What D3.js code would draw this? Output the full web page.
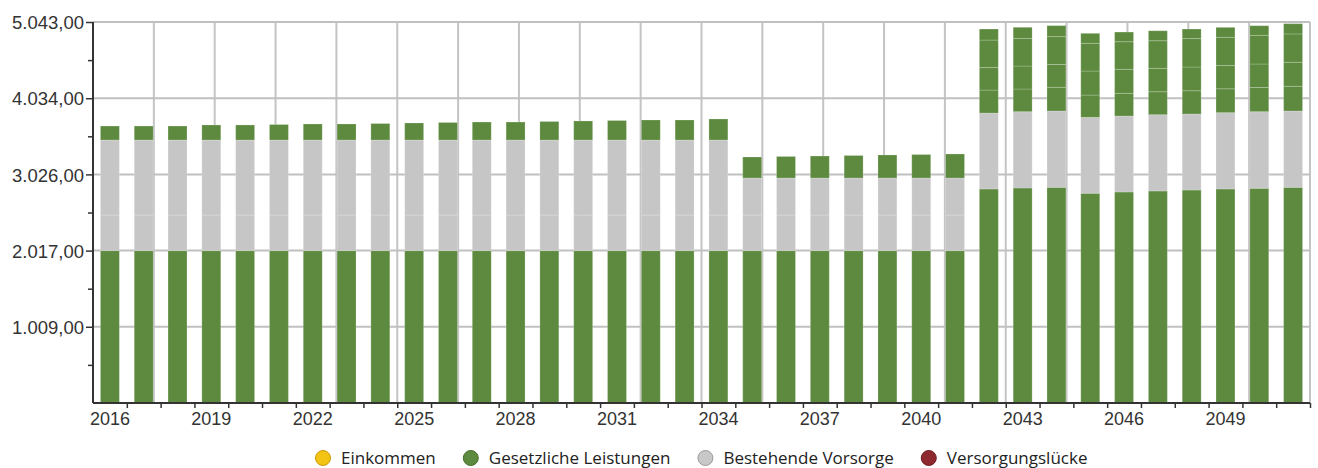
<!DOCTYPE html>
<html>
<head>
<meta charset="utf-8">
<script src="https://cdn.jsdelivr.net/npm/d3@7"></script>
<style>
  body { margin: 0; background: #fff; }
  .axis text { font-family: "Liberation Sans", Arial, sans-serif; fill: #333; }
  .legend text { font-family: "Open Sans", sans-serif; font-size: 17px; fill: #222; }
</style>
</head>
<body>
<div id="chart"></div>
<script>
// chart values
var years = [2016, 2017, 2018, 2019, 2020, 2021, 2022, 2023, 2024, 2025, 2026, 2027,
             2028, 2029, 2030, 2031, 2032, 2033, 2034, 2035, 2036, 2037, 2038, 2039,
             2040, 2041, 2042, 2043, 2044, 2045, 2046, 2047, 2048, 2049, 2050, 2051];

// bottom green block
var gesetzlichBasis = [2017, 2017, 2017, 2017, 2017, 2017, 2017, 2017, 2017, 2017, 2017, 2017,
                       2017, 2017, 2017, 2017, 2017, 2017, 2017, 2017, 2017, 2017, 2017, 2017,
                       2017, 2017, 2833, 2846, 2855, 2776, 2793, 2806, 2819, 2833, 2842, 2855];

// grey blocks (two parts)
var vorsorgeA = [471, 471, 471, 471, 471, 471, 471, 471, 471, 471, 471, 471,
                 471, 471, 471, 471, 471, 471, 471, 471, 471, 471, 471, 471,
                 471, 471, 1005, 1010, 1010, 1005, 1006, 1010, 1006, 1010, 1014, 1010];
var vorsorgeB = [993, 993, 993, 993, 993, 993, 993, 993, 993, 993, 993, 993,
                 993, 993, 993, 993, 993, 993, 993, 490, 490, 490, 490, 490,
                 490, 490, 0, 0, 0, 0, 0, 0, 0, 0, 0, 0];

// top green blocks
var zusatz1 = [185, 185, 185, 199, 199, 205, 212, 212, 218, 225, 232, 238,
               238, 245, 252, 258, 265, 265, 278, 278, 285, 291, 298, 305,
               311, 318, 304, 300, 314, 295, 300, 304, 308, 316, 320, 327];
var zusatz2 = [0, 0, 0, 0, 0, 0, 0, 0, 0, 0, 0, 0,
               0, 0, 0, 0, 0, 0, 0, 0, 0, 0, 0, 0,
               0, 0, 298, 304, 302, 318, 318, 310, 314, 308, 311, 318];
var zusatz3 = [0, 0, 0, 0, 0, 0, 0, 0, 0, 0, 0, 0,
               0, 0, 0, 0, 0, 0, 0, 0, 0, 0, 0, 0,
               0, 0, 364, 367, 368, 367, 365, 365, 377, 373, 380, 375];
var zusatz4 = [0, 0, 0, 0, 0, 0, 0, 0, 0, 0, 0, 0,
               0, 0, 0, 0, 0, 0, 0, 0, 0, 0, 0, 0,
               0, 0, 146, 146, 146, 132, 128, 132, 126, 132, 127, 136];

var yTicks = [1009, 2017, 3026, 4034, 5043];
var yMax = 5043;
var labelYears = [2016, 2019, 2022, 2025, 2028, 2031, 2034, 2037, 2040, 2043, 2046, 2049];

var legendItems = ["Einkommen", "Gesetzliche Leistungen", "Bestehende Vorsorge", "Versorgungslücke"];
var legendColors = ["#f3c414", "#5d8a3e", "#c8c8c8", "#8e2a2f"];
var legendStroke = ["#c89a00", "#466e2c", "#9a9a9a", "#6a1a1e"];

// set the dimensions and margins of the graph
var margin = {top: 22, right: 8, bottom: 65, left: 93},
    W = 1318, H = 468,
    width = W - margin.left - margin.right,
    height = H - margin.top - margin.bottom;

var svg = d3.select("#chart")
    .append("svg")
    .attr("width", W)
    .attr("height", H)
  .append("g")
    .attr("transform", "translate(" + margin.left + "," + margin.top + ")");

var keys = ["gesetzlichBasis", "vorsorgeA", "vorsorgeB", "zusatz1", "zusatz2", "zusatz3", "zusatz4"];
var keyColor = {
  gesetzlichBasis: "#5d8a3e", vorsorgeA: "#c6c6c6", vorsorgeB: "#c6c6c6",
  zusatz1: "#5d8a3e", zusatz2: "#5d8a3e", zusatz3: "#5d8a3e", zusatz4: "#5d8a3e"
};
var rows = years.map(function(yr, i) {
  return {year: yr, gesetzlichBasis: gesetzlichBasis[i], vorsorgeA: vorsorgeA[i], vorsorgeB: vorsorgeB[i],
          zusatz1: zusatz1[i], zusatz2: zusatz2[i], zusatz3: zusatz3[i], zusatz4: zusatz4[i]};
});

// scales
var x = d3.scaleBand()
    .domain(years)
    .range([0, width])
    .paddingInner(0.44)
    .paddingOuter(0.22);

var y = d3.scaleLinear()
    .domain([0, yMax])
    .range([height, 0]);

// grid: 20 vertical divisions
var xg = d3.scaleLinear().domain([0, 20]).range([0, width]);
svg.append("g")
    .selectAll("line")
    .data(d3.range(1, 21))
    .enter().append("line")
    .attr("x1", function(d) { return xg(d); })
    .attr("x2", function(d) { return xg(d); })
    .attr("y1", 0).attr("y2", height)
    .style("stroke", "#c4c4c4")
    .style("stroke-width", 2);

svg.append("g")
    .selectAll("line")
    .data(yTicks)
    .enter().append("line")
    .attr("x1", 0).attr("x2", width)
    .attr("y1", function(d) { return y(d); })
    .attr("y2", function(d) { return y(d); })
    .style("stroke", "#c0c0c0")
    .style("stroke-width", 2);

// stacked bars
var stack = d3.stack().keys(keys)(rows);
svg.append("g")
    .selectAll("g")
    .data(stack)
    .enter().append("g")
    .style("fill", function(d) { return keyColor[d.key]; })
    .selectAll("rect")
    .data(function(d) { return d.filter(function(s) { return s[1] > s[0]; }); })
    .enter().append("rect")
    .attr("x", function(d) { return x(d.data.year); })
    .attr("width", x.bandwidth())
    .attr("y", function(d) { return y(d[1]); })
    .attr("height", function(d) { return y(d[0]) - y(d[1]); })
    .style("stroke", "rgba(255,255,255,0.2)")
    .style("stroke-width", 1);

// Y axis
var de = d3.formatLocale({decimal: ",", thousands: ".", grouping: [3], currency: ["", "€"]});
var minor = yTicks.map(function(t, i) { return i === 0 ? t / 2 : (t + yTicks[i - 1]) / 2; });
svg.append("g")
    .attr("class", "axis")
    .call(d3.axisLeft(y).tickValues(minor).tickSize(5).tickFormat(""))
    .call(function(g) { g.select(".domain").remove(); })
    .selectAll("line").style("stroke", "#333").style("stroke-width", 1.5);
svg.append("g")
    .attr("class", "axis")
    .call(d3.axisLeft(y).tickValues(yTicks).tickSize(7).tickPadding(2).tickFormat(de.format(",.2f")))
    .call(function(g) {
      g.select(".domain").attr("d", "M0," + height + "V0").style("stroke", "#333").style("stroke-width", 2);
      g.selectAll("line").style("stroke", "#333").style("stroke-width", 1.5);
      g.selectAll("text").style("font-size", "18.5px").attr("dy", "0.36em");
    });

// X axis: ticks between bars, labels under bars
var xb = d3.scaleLinear().domain([0, years.length]).range([0, width]);
svg.append("g")
    .attr("class", "axis")
    .attr("transform", "translate(0," + height + ")")
    .call(d3.axisBottom(xb).tickValues(d3.range(1, years.length + 1)).tickSize(5).tickFormat(""))
    .call(function(g) {
      g.select(".domain").attr("d", "M0,0H" + width).style("stroke", "#333").style("stroke-width", 2);
      g.selectAll("line").style("stroke", "#333").style("stroke-width", 1.5);
    });
svg.append("g")
    .attr("class", "axis")
    .attr("transform", "translate(0," + height + ")")
    .call(d3.axisBottom(x).tickValues(labelYears).tickSize(0).tickPadding(9))
    .call(function(g) {
      g.select(".domain").remove();
      g.selectAll("text").style("font-size", "18px");
    });

// legend
var legend = d3.select("svg").append("g").attr("class", "legend");
var lx = 323;
legendItems.forEach(function(name, i) {
  var item = legend.append("g").attr("transform", "translate(" + lx + ",458)");
  item.append("circle")
      .attr("r", 7.5)
      .style("fill", legendColors[i])
      .style("stroke", legendStroke[i])
      .style("stroke-width", 1);
  var t = item.append("text")
      .attr("x", 18)
      .attr("y", 6)
      .text(name);
  lx += 18 + t.node().getComputedTextLength() + 35;
});
</script>
</body>
</html>
